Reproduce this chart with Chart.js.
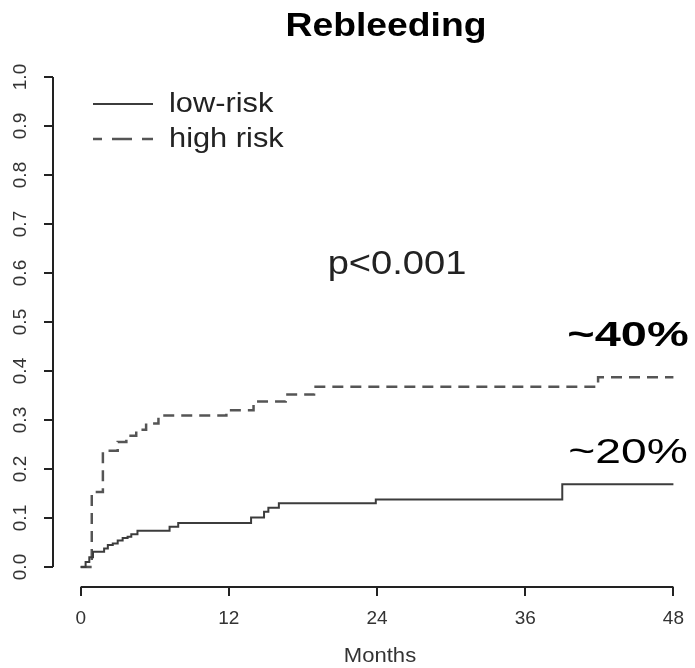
<!DOCTYPE html>
<html>
<head>
<meta charset="utf-8">
<title>Rebleeding</title>
<script src="https://cdn.jsdelivr.net/npm/chart.js@4.4.1/dist/chart.umd.min.js"></script>
<style>
  html, body { margin: 0; padding: 0; background: #fff; }
</style>
</head>
<body>
<canvas id="kmChart" width="695" height="668"></canvas>
<script>
// axis ticks
var monthTicks = [0, 12, 24, 36, 48];
var probTicks = [0, 0.1, 0.2, 0.3, 0.4, 0.5, 0.6, 0.7, 0.8, 0.9, 1.0];

// cumulative rebleeding, low-risk group (month of each step, value after the step)
var lowMonths = [0, 0.4, 0.7, 1.0, 1.9, 2.2, 2.6, 3.0, 3.4, 3.8, 4.1, 4.6, 7.2, 7.9, 13.8, 14.85, 15.2, 16.05, 23.9, 39.0, 48];
var lowRisk   = [0, 0.01, 0.02, 0.031, 0.038, 0.045, 0.048, 0.054, 0.059, 0.062, 0.067, 0.074, 0.082, 0.090, 0.101, 0.113, 0.121, 0.130, 0.138, 0.169, 0.169];

// cumulative rebleeding, high risk group
var highMonths = [0, 0.9, 1.8, 3.0, 3.7, 4.5, 5.3, 6.3, 11.8, 14.0, 16.6, 18.9, 41.9, 48];
var highRisk   = [0, 0.153, 0.237, 0.255, 0.268, 0.280, 0.293, 0.309, 0.320, 0.338, 0.352, 0.368, 0.387, 0.387];

var groupNames = ['low-risk', 'high risk'];

var FONT = '"Liberation Sans", Arial, sans-serif';

function toPoints(xs, ys) {
	return xs.map(function (x, i) { return { x: x, y: ys[i] }; });
}

// draw text with an optional horizontal stretch
function stretchText(ctx, text, x, y, font, sx, align) {
	ctx.save();
	ctx.font = font;
	ctx.textBaseline = 'middle';
	ctx.textAlign = align || 'center';
	ctx.translate(x, y);
	ctx.scale(sx, 1);
	ctx.fillText(text, 0, 0);
	ctx.restore();
}

// R style axes: the axis line only runs from the first to the last tick
var rAxes = {
	id: 'rAxes',
	afterDraw: function (chart) {
		var ctx = chart.ctx;
		var xs = chart.scales.x, ys = chart.scales.y, area = chart.chartArea;
		ctx.save();
		ctx.strokeStyle = '#222';
		ctx.lineWidth = 2;
		ctx.beginPath();
		ctx.moveTo(xs.getPixelForValue(monthTicks[0]), area.bottom);
		ctx.lineTo(xs.getPixelForValue(monthTicks[monthTicks.length - 1]), area.bottom);
		ctx.moveTo(area.left, ys.getPixelForValue(probTicks[0]));
		ctx.lineTo(area.left, ys.getPixelForValue(probTicks[probTicks.length - 1]));
		ctx.stroke();

		// legend, the dashed sample uses a longer pattern
		var sets = chart.data.datasets;
		var rows = [104, 139];
		sets.forEach(function (ds, i) {
			ctx.save();
			ctx.strokeStyle = ds.borderColor;
			ctx.lineWidth = ds.borderWidth;
			if (ds.borderDash) {
				ctx.setLineDash([20, 10]);
				ctx.lineDashOffset = 11;
			}
			ctx.beginPath();
			ctx.moveTo(93, rows[i]);
			ctx.lineTo(153, rows[i]);
			ctx.stroke();
			ctx.restore();
			ctx.fillStyle = '#222';
			stretchText(ctx, ds.label, 169, rows[i], '28px ' + FONT, 1.1, 'left');
		});

		ctx.fillStyle = '#000';
		stretchText(ctx, 'Rebleeding', 386, 27, 'bold 33px ' + FONT, 1.13);
		ctx.fillStyle = '#222';
		stretchText(ctx, 'p<0.001', 397, 265, '34px ' + FONT, 1.12);
		ctx.fillStyle = '#000';
		stretchText(ctx, '~40%', 628, 336, 'bold 35px ' + FONT, 1.34);
		stretchText(ctx, '~20%', 628, 453, '35px ' + FONT, 1.32);
		ctx.fillStyle = '#333';
		stretchText(ctx, 'Months', 380, 656, '21px ' + FONT, 1.05);
		ctx.restore();
	}
};

var ctx = document.getElementById('kmChart').getContext('2d');
var kmChart = new Chart(ctx, {
	type: 'line',
	data: {
		datasets: [{
			label: groupNames[0],
			data: toPoints(lowMonths, lowRisk),
			borderColor: '#3c3c3c',
			borderWidth: 2,
			stepped: 'before',
			pointRadius: 0,
			fill: false
		}, {
			label: groupNames[1],
			data: toPoints(highMonths, highRisk),
			borderColor: '#555555',
			borderWidth: 2.5,
			borderDash: [11, 7],
			stepped: 'before',
			pointRadius: 0,
			fill: false
		}]
	},
	options: {
		responsive: false,
		animation: false,
		devicePixelRatio: 1,
		layout: { padding: { top: 57, right: 1, left: 0, bottom: 0 } },
		plugins: {
			legend: { display: false },
			title: { display: false },
			tooltip: { enabled: false }
		},
		scales: {
			x: {
				type: 'linear',
				min: -2.24,
				max: 49.04,
				afterBuildTicks: function (scale) {
					scale.ticks = monthTicks.map(function (v) { return { value: v }; });
				},
				afterFit: function (scale) { scale.height = 81; },
				border: { display: false },
				grid: { drawOnChartArea: false, drawTicks: true, tickLength: 9, color: '#222', lineWidth: 2 },
				ticks: {
					color: '#333',
					padding: 11,
					maxRotation: 0,
					font: { family: FONT, size: 19 }
				}
			},
			y: {
				type: 'linear',
				min: -0.0408,
				max: 1.0408,
				afterBuildTicks: function (scale) {
					scale.ticks = probTicks.map(function (v) { return { value: v }; });
				},
				afterFit: function (scale) { scale.width = 53; },
				border: { display: false },
				grid: { drawOnChartArea: false, drawTicks: true, tickLength: 9, color: '#222', lineWidth: 2 },
				ticks: {
					color: '#333',
					padding: 10,
					minRotation: 90,
					maxRotation: 90,
					crossAlign: 'center',
					font: { family: FONT, size: 19 },
					callback: function (v) { return v.toFixed(1); }
				}
			}
		}
	},
	plugins: [rAxes]
});
</script>
</body>
</html>
